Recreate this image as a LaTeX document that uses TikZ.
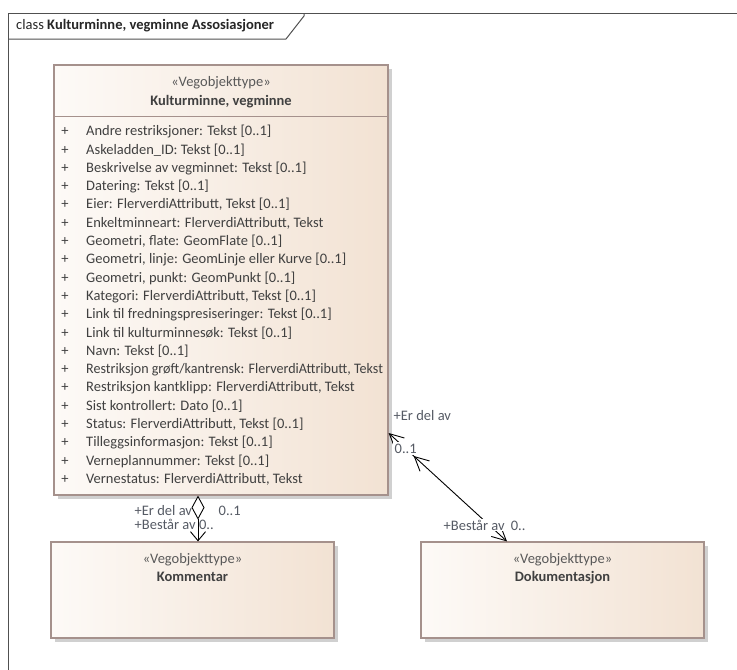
\documentclass[tikz,border=0pt]{standalone}
\usepackage{fontspec}
\setmainfont{Carlito}
\usepackage{graphicx}
\usepackage{tikz}
\usetikzlibrary{arrows.meta,shadows,calc,decorations.markings}
\definecolor{boxline}{RGB}{165,145,140}
\definecolor{boxleft}{RGB}{253,250,247}
\definecolor{boxright}{RGB}{242,226,211}
\definecolor{shadowgray}{RGB}{208,208,208}
\definecolor{framegray}{RGB}{80,80,80}
\definecolor{txtgray}{RGB}{64,64,64}
\definecolor{lblgray}{RGB}{85,90,100}
\newcommand{\umlfont}{\fontsize{14.5}{17}\selectfont}
\tikzset{
  classbox/.style={draw=boxline,line width=1.2pt,left color=boxleft,right color=boxright,
    drop shadow={shadow xshift=4pt,shadow yshift=-4pt,fill=shadowgray,opacity=1}},
  umltext/.style={font=\umlfont,text=txtgray,inner sep=0pt,anchor=base},
  attr/.style={umltext,anchor=base west},
  rolelabel/.style={font=\umlfont,text=lblgray,inner sep=0.5pt,anchor=base west},
  assoc/.style={draw=black,line width=0.9pt},
  umlbarb/.tip={Straight Barb[length=14pt,width=14pt]}
}
\begin{document}
\begin{tikzpicture}[x=1pt,y=-1pt]
\useasboundingbox (0,0) rectangle (737,670);
%diagram frame
\draw[framegray,line width=1pt](8,670)--(8,13)--(737,13);
\draw[framegray,line width=1pt](8,39)--(286,39)--(304,16)--(304,13);
\node[anchor=base west,font=\umlfont,inner sep=0pt,text=black!85](frametitle)at(16,29){class \textbf{Kulturminne, vegminne Assosiasjoner}};

%main class
\node[classbox,minimum width=334pt,minimum height=430pt](kultur)at(221,280){};
\draw[boxline,line width=1pt]([yshift=-52pt]kultur.north west)--([yshift=-52pt]kultur.north east);
\node[umltext,text=black!65](kulturstereo)at(221,86){«Vegobjekttype»};
\node[umltext,font=\umlfont\bfseries](kulturname)at(221,105){Kulturminne, vegminne};
%attributes
\foreach \attr [count=\i from 0] in {
  {Andre restriksjoner: Tekst [0..1]},
  {Askeladden\_ID: Tekst [0..1]},
  {Beskrivelse av vegminnet: Tekst [0..1]},
  {Datering: Tekst [0..1]},
  {Eier: FlerverdiAttributt, Tekst [0..1]},
  {Enkeltminneart: FlerverdiAttributt, Tekst},
  {Geometri, flate: GeomFlate [0..1]},
  {Geometri, linje: GeomLinje eller Kurve [0..1]},
  {Geometri, punkt: GeomPunkt [0..1]},
  {Kategori: FlerverdiAttributt, Tekst [0..1]},
  {Link til fredningspresiseringer: Tekst [0..1]},
  {Link til kulturminnesøk: Tekst [0..1]},
  {Navn: Tekst [0..1]},
  {\scalebox{0.97}[1]{Restriksjon grøft/kantrensk: FlerverdiAttributt, Tekst}},
  {Restriksjon kantklipp: FlerverdiAttributt, Tekst},
  {Sist kontrollert: Dato [0..1]},
  {Status: FlerverdiAttributt, Tekst [0..1]},
  {Tilleggsinformasjon: Tekst [0..1]},
  {Verneplannummer: Tekst [0..1]},
  {Vernestatus: FlerverdiAttributt, Tekst}}
{
\node[umltext](plus\i)at(65,135.7+18.3*\i){+};
\node[attr](attr\i)at(86,135.7+18.3*\i){\attr};
}

%part classes
\node[classbox,minimum width=283pt,minimum height=96pt](kommentar)at(192.5,590){};
\node[umltext,text=black!65](kommentarstereo)at(192.5,563){«Vegobjekttype»};
\node[umltext,font=\umlfont\bfseries](kommentarname)at(192.5,581){Kommentar};
\node[classbox,minimum width=283pt,minimum height=96pt](dokumentasjon)at(562.5,590){};
\node[umltext,text=black!65](dokstereo)at(562.5,563){«Vegobjekttype»};
\node[umltext,font=\umlfont\bfseries](dokname)at(562.5,581){Dokumentasjon};

%associations
\draw[assoc,{Diamond[fill=white,length=24pt,width=13pt]}-{Straight Barb[length=9pt,width=15pt]}]
  ([xshift=-23pt]kultur.south)--([xshift=5.5pt]kommentar.north);
\draw[assoc,umlbarb-umlbarb,
  postaction={decorate,decoration={markings,mark=at position 34pt with {\arrowreversed{umlbarb}}}}]
  ([yshift=-153pt]kultur.east)--([xshift=-55.5pt]dokumentasjon.north);

%role labels
\node[rolelabel](erdelav1)at(134,515.5){+Er del av};
\node[rolelabel](mult1)at(218,515.5){0..1};
\node[rolelabel](bestar1)at(134,529.5){+Består av 0..};
\node[rolelabel](erdelav2)at(393,420){+Er del av};
\node[rolelabel,fill=white,inner sep=1.5pt](mult2)at(393,453){0..1};
\node[rolelabel,fill=white](bestar2)at(443,530){+Består av\hspace{6pt}0..};
\end{tikzpicture}
\end{document}
